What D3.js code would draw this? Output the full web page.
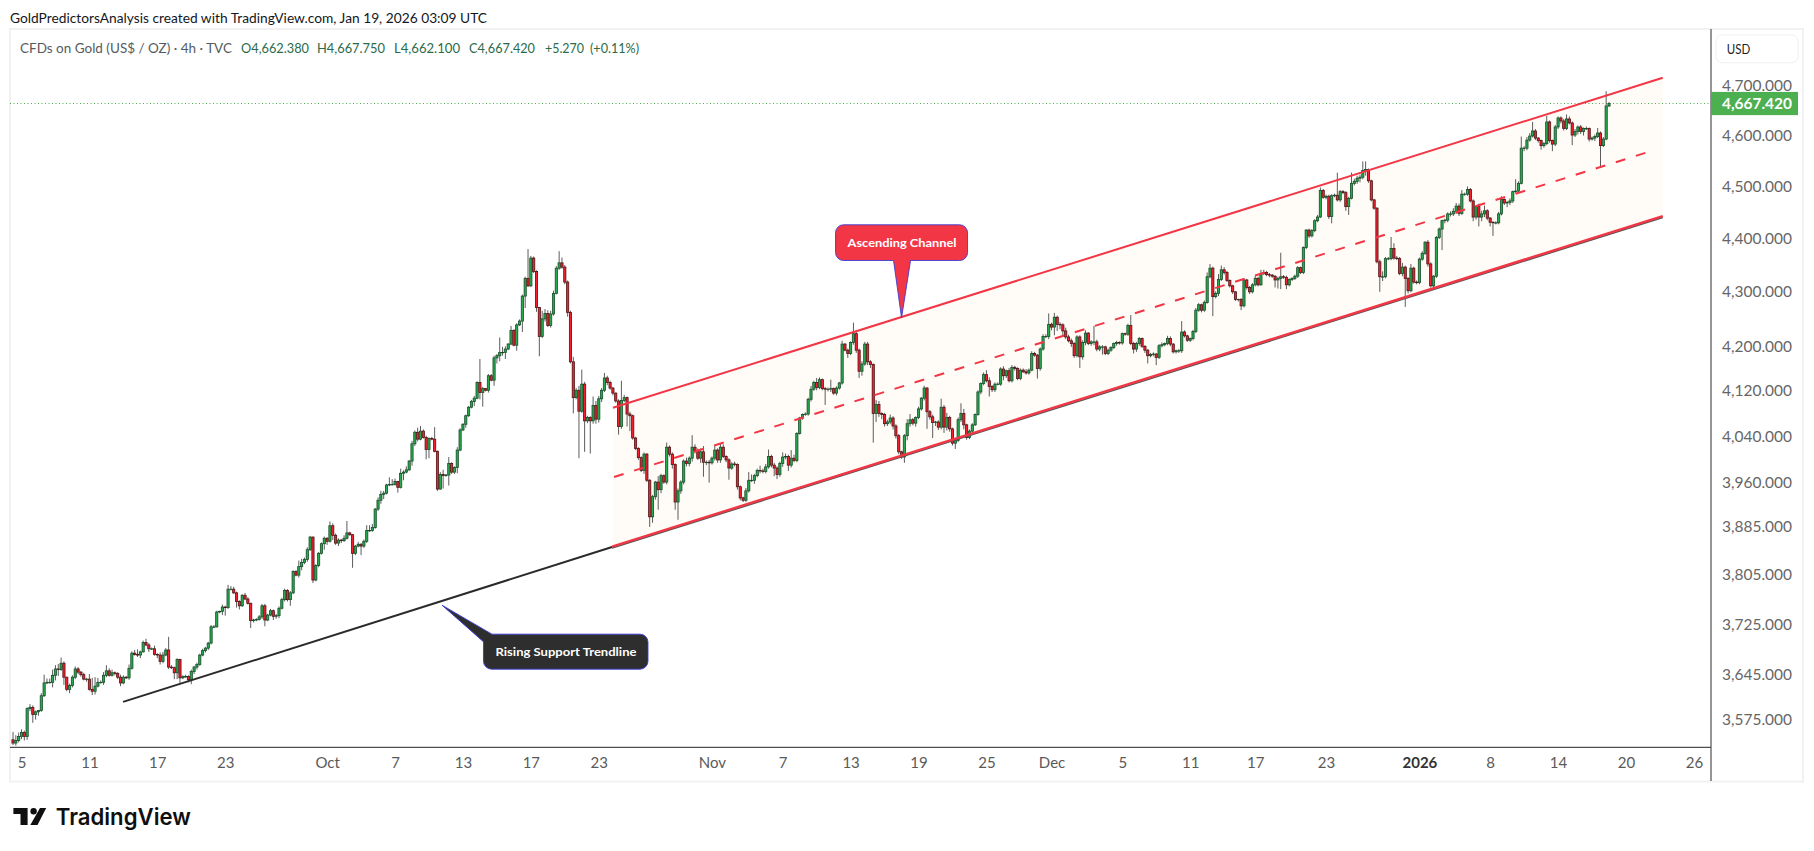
<!DOCTYPE html>
<html><head><meta charset="utf-8">
<script src="https://cdn.jsdelivr.net/npm/d3@7"></script>
<style>html,body{margin:0;padding:0;background:#fff;overflow:hidden}svg{display:block}
.tv{font-family:Lato,"Noto Sans",sans-serif}</style></head><body>
<svg id="c" width="1814" height="851"></svg>
<script>
const firstOpen=3544;
const closes=[
3539,3543,3549,3555,3549,3592,3594,3583,3587,3589,
3612,3632,3633,3633,3644,3654,3653,3663,3641,3622,
3628,3641,3654,3649,3645,3638,3638,3622,3619,3627,
3633,3633,3644,3651,3644,3648,3647,3641,3632,3641,
3640,3655,3679,3677,3676,3681,3696,3692,3686,3686,
3677,3676,3666,3676,3684,3657,3656,3648,3669,3640,
3642,3642,3637,3650,3657,3661,3676,3683,3687,3695,
3721,3721,3745,3746,3753,3752,3782,3782,3776,3762,
3755,3772,3766,3759,3731,3732,3733,3737,3755,3732,
3740,3747,3738,3739,3751,3765,3780,3765,3776,3811,
3805,3819,3826,3831,3847,3868,3797,3821,3841,3857,
3866,3861,3887,3871,3858,3863,3862,3866,3875,3872,
3841,3853,3856,3853,3861,3879,3879,3884,3915,3930,
3940,3942,3956,3957,3957,3962,3952,3976,3978,3982,
3997,4027,4047,4035,4049,4038,4017,4036,4035,4014,
3949,3974,3972,3973,3993,3978,3986,4016,4051,4061,
4076,4091,4101,4107,4135,4117,4124,4121,4147,4139,
4179,4183,4189,4189,4195,4204,4229,4202,4239,4246,
4292,4325,4311,4363,4338,4271,4218,4250,4260,4238,
4259,4297,4344,4354,4346,4318,4262,4172,4108,4121,
4084,4132,4067,4073,4067,4094,4070,4106,4121,4143,
4135,4125,4116,4102,4057,4103,4108,4079,4076,4037,
4019,4003,3981,4009,3964,3902,3936,3961,3948,3972,
3961,4021,4009,3991,3927,3946,3961,3997,3993,4002,
4021,4015,4002,4013,3995,3995,3994,4002,4016,3999,
4021,4005,3999,3985,3992,3991,3953,3934,3930,3946,
3964,3964,3972,3981,3980,3979,3987,4005,3990,3985,
3974,3993,4004,4005,3990,4002,3998,4045,4072,4078,
4079,4105,4123,4135,4126,4140,4124,4123,4123,4124,
4116,4125,4134,4204,4193,4187,4207,4223,4193,4155,
4168,4204,4172,4167,4080,4096,4080,4078,4062,4065,
4072,4058,4041,4013,4004,4041,4062,4069,4063,4073,
4088,4107,4125,4083,4074,4064,4065,4056,4091,4056,
4073,4053,4028,4033,4069,4080,4060,4038,4049,4060,
4078,4118,4133,4149,4138,4128,4122,4132,4132,4159,
4147,4156,4138,4162,4160,4142,4157,4154,4152,4157,
4187,4184,4160,4195,4218,4218,4240,4235,4253,4240,
4239,4228,4217,4210,4205,4183,4217,4181,4207,4224,
4205,4208,4208,4195,4199,4199,4187,4193,4198,4205,
4207,4206,4223,4222,4238,4205,4195,4205,4214,4200,
4193,4183,4185,4186,4180,4201,4203,4205,4214,4204,
4190,4192,4192,4226,4219,4211,4214,4227,4266,4276,
4266,4280,4328,4344,4291,4297,4323,4341,4336,4321,
4311,4300,4286,4286,4274,4322,4308,4300,4313,4325,
4313,4334,4336,4332,4331,4329,4322,4325,4328,4327,
4313,4323,4325,4329,4345,4336,4383,4416,4405,4415,
4434,4441,4492,4479,4481,4442,4482,4483,4474,4490,
4488,4461,4477,4506,4510,4516,4518,4531,4533,4511,
4474,4458,4356,4328,4328,4362,4362,4381,4363,4362,
4334,4346,4325,4302,4344,4318,4317,4361,4372,4393,
4352,4311,4329,4402,4418,4434,4435,4447,4447,4452,
4462,4448,4485,4485,4494,4472,4441,4461,4441,4447,
4453,4439,4431,4430,4430,4447,4475,4468,4469,4472,
4490,4491,4506,4575,4575,4591,4599,4609,4595,4590,
4580,4584,4627,4590,4583,4617,4635,4629,4614,4633,
4625,4601,4608,4617,4608,4614,4614,4593,4595,4598,
4605,4580,4593,4659,4664];
const wickUp=[
12,8,6,5,3,2,5,3,2,1,
4,13,6,6,9,6,8,9,3,1,
3,3,4,3,2,3,2,8,18,14,
7,3,5,9,4,5,2,2,4,3,
2,6,3,5,8,2,3,6,3,2,
5,2,4,5,3,21,3,2,2,1,
2,3,2,3,2,3,2,3,2,2,
3,3,2,1,4,2,7,5,4,2,
2,2,4,3,1,2,2,3,3,3,
2,3,2,3,3,3,3,2,3,2,
2,10,6,3,4,2,1,2,2,2,
3,2,7,4,3,3,2,5,20,2,
1,2,4,2,3,9,9,6,2,5,
6,4,2,12,9,5,1,8,3,6,
2,5,3,8,9,3,3,2,3,21,
1,4,8,2,11,2,2,5,3,2,
2,2,3,4,2,42,3,1,3,3,
4,3,27,10,5,2,8,2,3,3,
3,3,55,4,3,2,1,15,8,6,
6,5,4,22,10,4,3,3,9,4,
8,26,4,3,2,16,8,5,4,9,
4,3,2,1,3,35,5,2,4,2,
2,2,2,3,2,2,3,2,10,3,
2,8,3,3,2,4,3,3,6,3,
21,5,4,6,10,3,4,3,8,3,
6,5,2,3,3,4,2,2,2,5,
14,10,3,3,8,4,5,12,3,4,
3,3,8,5,3,14,6,2,2,2,
3,3,6,3,8,4,2,3,3,16,
2,3,2,6,2,3,2,20,6,3,
5,4,4,3,2,8,6,2,3,4,
6,3,3,3,2,3,8,10,3,2,
4,2,4,2,3,4,2,3,15,4,
8,3,2,3,4,18,8,2,3,3,
2,3,2,4,8,6,2,3,3,3,
5,2,5,4,3,2,3,3,5,3,
4,3,2,3,4,4,20,3,8,3,
4,3,6,4,4,3,3,3,4,5,
2,3,29,4,3,3,2,3,2,2,
3,2,2,2,3,19,3,3,3,2,
2,2,3,3,2,3,4,2,5,4,
2,2,3,20,3,2,2,3,4,3,
2,4,8,8,3,4,10,8,5,3,
2,2,1,1,2,3,2,3,3,5,
3,7,5,3,3,2,2,3,45,3,
3,2,2,3,3,2,2,2,3,3,
3,4,6,3,3,3,3,3,44,3,
3,3,3,21,5,5,5,18,16,2,
2,2,2,4,10,3,3,22,10,4,
3,8,3,2,8,3,3,3,4,2,
4,3,2,3,3,2,3,3,5,6,
6,5,8,3,6,3,3,2,6,6,
10,3,2,2,3,4,6,2,3,5,
2,23,4,23,4,6,6,18,4,2,
2,3,12,3,2,4,3,3,4,9,
5,3,5,3,4,2,4,2,3,4,
10,3,4,30,3];
const wickDown=[
3,4,3,4,6,5,4,13,8,6,
2,2,2,2,8,8,10,2,12,3,
6,3,3,3,3,2,4,2,6,5,
2,2,4,3,2,2,3,3,5,2,
2,3,2,2,3,5,1,2,5,2,
2,5,5,3,2,3,2,10,10,8,
2,2,4,7,4,4,2,2,3,3,
2,2,1,2,6,13,2,2,2,10,
6,2,2,2,12,3,2,2,3,10,
2,2,6,4,4,2,3,3,10,2,
2,4,6,3,4,2,5,2,3,2,
10,6,2,8,3,5,4,2,2,2,
24,3,2,15,3,3,2,2,2,3,
6,8,2,2,2,2,9,2,12,2,
2,8,4,4,2,2,17,15,2,2,
3,1,22,2,18,3,3,10,2,2,
6,2,2,8,2,12,25,2,4,2,
10,10,10,6,12,2,2,2,10,2,
20,22,2,2,3,8,36,3,5,3,
4,3,2,3,3,4,8,3,28,3,
82,3,54,4,57,5,8,6,6,3,
5,3,4,3,14,4,3,22,27,3,
3,4,3,6,3,17,10,5,34,6,
3,4,4,7,13,30,5,4,5,5,
6,5,3,8,25,5,34,3,4,5,
5,3,4,20,3,3,5,4,3,3,
3,3,6,3,4,3,3,3,4,14,
8,4,6,4,10,4,3,3,2,3,
2,3,4,3,5,3,3,28,4,5,
3,4,3,3,2,8,3,4,5,12,
8,3,6,6,51,15,6,8,5,4,
4,6,5,4,3,10,8,5,4,6,
3,3,4,30,5,27,6,5,4,10,
6,5,4,10,3,4,8,4,3,3,
2,2,4,3,3,18,4,4,2,3,
8,4,3,3,4,3,3,2,3,3,
2,3,18,4,3,3,5,6,15,12,
8,10,4,3,6,4,3,20,5,5,
3,4,6,4,4,14,3,3,3,3,
4,3,3,3,3,3,8,5,4,3,
5,14,3,3,14,3,3,3,3,4,
3,3,4,4,3,3,3,3,3,3,
4,3,2,3,36,3,5,3,4,3,
3,4,3,4,8,3,4,4,3,3,
3,2,3,3,4,3,14,16,20,3,
8,3,3,3,3,3,3,3,4,3,
3,3,2,3,4,5,13,3,3,4,
3,8,16,2,4,5,8,4,10,4,
3,3,3,28,8,3,3,3,3,3,
3,5,53,5,3,3,3,3,3,3,
5,3,3,3,3,40,5,4,5,4,
5,5,3,3,3,3,8,5,18,8,
6,4,8,25,3,3,3,4,8,5,
4,3,3,2,6,4,3,3,4,4,
8,4,3,4,14,4,4,5,4,3,
3,20,4,6,5,8,3,5,3,6,
3,44,3,2,2];
const priceTicks=[4700,4600,4500,4400,4300,4200,4120,4040,3960,3885,3805,3725,3645,3575];
const timeTickBars=[3,27,51,75,111,135,159,183,207,247,272,296,320,344,367,392,416,439,464,497,522,546,570,594];
const timeTickLabels=["5","11","17","23","Oct","7","13","17","23","Nov","7","13","19","25","Dec","5","11","17","23","2026","8","14","20","26"];
const supportBars=[38.9,211.7], supportPrices=[3602.4,3851.5];
const lowerBars=[211.7,583], lowerPrices=[3851.5,4442];
const upperBars=[212,583], upperPrices=[4090.2,4716];
const midBars=[212.4,579], midPrices=[3969.7,4569.4];
const channelBars=[212,583];
const tipAscending=[314,4252], tipSupport=[151.6,3756];
const lastPriceText="4,667.420";

const N=closes.length;
const candles=closes.map((c,i)=>{const o=i?closes[i-1]:firstOpen;
  return {i,o,c,h:Math.max(o,c)+wickUp[i],l:Math.min(o,c)-wickDown[i]};});
const x=d3.scaleLinear().domain([0,N-1]).range([13,1609]);
const y=d3.scaleLog().domain([4700,3575]).range([85.7,719.6]);
const svg=d3.select("#c").attr("class","tv");
const txt=(t,xx,yy,len,fs,fill,w)=>{const e=svg.append("text").attr("x",xx).attr("y",yy).attr("font-size",fs).attr("fill",fill).attr("dominant-baseline","central").text(t);
  if(len)e.attr("textLength",len).attr("lengthAdjust","spacingAndGlyphs");if(w)e.attr("font-weight",w);return e;};

// frame
svg.append("rect").attr("x",10).attr("y",29).attr("width",1793).attr("height",752.5).attr("fill","#fff").attr("stroke","#f1f1f1").attr("stroke-width",2);
// title
txt("GoldPredictorsAnalysis created with TradingView.com, Jan 19, 2026 03:09 UTC",10,17.7,477,13.5,"#131722");
// legend
txt("CFDs on Gold (US$ / OZ) · 4h · TVC",20,47.7,212,13,"#555b61");
[["O4,662.380",241,68],["H4,667.750",317,68],["L4,662.100",394,66],["C4,667.420",469,66],["+5.270",545,39],["(+0.11%)",590,49]].forEach(d=>txt(d[0],d[1],47.7,d[2],13,"#2b6a4a"));

// channel fill
const lineAt=(bars,prices,b)=>{const t=(x(b)-x(bars[0]))/(x(bars[1])-x(bars[0]));return y(prices[0])+t*(y(prices[1])-y(prices[0]));};
svg.append("path").attr("fill","#fffbf6").attr("d",d3.line()([
 [x(channelBars[0]),lineAt(upperBars,upperPrices,channelBars[0])],
 [x(channelBars[1]),lineAt(upperBars,upperPrices,channelBars[1])],
 [x(channelBars[1]),lineAt(lowerBars,lowerPrices,channelBars[1])],
 [x(channelBars[0]),lineAt(lowerBars,lowerPrices,channelBars[0])]]));

// last price dotted
const lastY=y(closes[N-1]);
svg.append("line").attr("x1",10).attr("x2",1711).attr("y1",lastY).attr("y2",lastY).attr("stroke","#4caf50").attr("stroke-width",1).attr("stroke-dasharray","1 2.5");

// candles
const gc=svg.append("g");
gc.selectAll("line").data(candles).join("line")
 .attr("x1",d=>x(d.i)).attr("x2",d=>x(d.i)).attr("y1",d=>y(d.h)).attr("y2",d=>y(d.l))
 .attr("stroke","#5c5c5c").attr("stroke-width",1);
gc.selectAll("rect").data(candles).join("rect")
 .attr("x",d=>x(d.i)-1.1).attr("width",2.2)
 .attr("y",d=>y(Math.max(d.o,d.c))).attr("height",d=>Math.max(0.4,Math.abs(y(d.o)-y(d.c))))
 .attr("fill",d=>d.c>=d.o?"#2aa84f":"#f5202f")
 .attr("stroke",d=>d.c>=d.o?"#15502a":"#4f1416").attr("stroke-width",0.8);

// trendlines
const ln=d3.line().x(d=>x(d[0])).y(d=>y(d[1]));
const seg=(b,p)=>ln(b.map((v,i)=>[v,p[i]]));
svg.append("path").attr("d",seg(supportBars,supportPrices)).attr("stroke","#2a2a2a").attr("stroke-width",2).attr("fill","none");
svg.append("path").attr("d",seg(lowerBars,lowerPrices)).attr("stroke","#555").attr("stroke-width",1.5).attr("fill","none").attr("transform","translate(0,1)");
svg.append("path").attr("d",seg(lowerBars,lowerPrices)).attr("stroke","#f23645").attr("stroke-width",2.4).attr("fill","none").attr("transform","translate(0,-0.4)");
svg.append("path").attr("d",seg(upperBars,upperPrices)).attr("stroke","#f23645").attr("stroke-width",2).attr("fill","none");
svg.append("path").attr("d",seg(midBars,midPrices)).attr("stroke","#f23645").attr("stroke-width",2).attr("fill","none").attr("stroke-dasharray","10 11");

// callouts
{const tx=x(tipAscending[0]),ty=y(tipAscending[1]);
 const L=tx-66,R=tx+66,T=ty-93,B=ty-57.3,r=8;
 svg.append("path").attr("fill","#f23645").attr("stroke","#3b3bd6").attr("stroke-width",0.9)
  .attr("d",`M${L+r},${T}H${R-r}A${r},${r} 0 0 1 ${R},${T+r}V${B-r}A${r},${r} 0 0 1 ${R-r},${B}H${tx+9}L${tx},${ty}L${tx-8},${B}H${L+r}A${r},${r} 0 0 1 ${L},${B-r}V${T+r}A${r},${r} 0 0 1 ${L+r},${T}Z`);
 txt("Ascending Channel",tx-54,ty-75,109,12,"#fff",700);}
{const tx=x(tipSupport[0]),ty=y(tipSupport[1]);
 const L=tx+41.5,R=tx+206,T=ty+29,B=ty+64,r=8;
 svg.append("path").attr("fill","#2e2e2e").attr("stroke","#3b3bd6").attr("stroke-width",0.9)
  .attr("d",`M${tx+50},${T}H${R-r}A${r},${r} 0 0 1 ${R},${T+r}V${B-r}A${r},${r} 0 0 1 ${R-r},${B}H${L+r}A${r},${r} 0 0 1 ${L},${B-r}V${T+7.7}L${tx},${ty}Z`);
 txt("Rising Support Trendline",tx+53.5,ty+46,141,12,"#fff",700);}

// axes lines
svg.append("line").attr("x1",10).attr("x2",1711).attr("y1",747.3).attr("y2",747.3).attr("stroke","#4f4f4f").attr("stroke-width",1.2);
svg.append("line").attr("x1",1711).attr("x2",1711).attr("y1",29).attr("y2",781).attr("stroke","#4f4f4f").attr("stroke-width",1.2);

// y axis
const ya=svg.append("g").attr("transform","translate(1722,0)")
 .call(d3.axisRight(y).tickValues(priceTicks).tickSize(0).tickPadding(0).tickFormat(d3.format(",.3f")));
ya.select(".domain").remove();
ya.selectAll("text").attr("font-family","Lato,'Noto Sans',sans-serif").attr("font-size",15).attr("fill","#666").attr("textLength",70).attr("lengthAdjust","spacingAndGlyphs");

// x axis
const xa=svg.append("g").attr("transform","translate(0,747)")
 .call(d3.axisBottom(x).tickValues(timeTickBars).tickSize(0).tickPadding(0).tickFormat((d,i)=>timeTickLabels[i]));
xa.select(".domain").remove();
xa.selectAll("text").attr("font-family","Lato,'Noto Sans',sans-serif").attr("font-size",15).attr("dy","0").attr("y",21)
 .attr("font-weight",(d,i)=>timeTickLabels[i]==="2026"?700:400).attr("fill",(d,i)=>timeTickLabels[i]==="2026"?"#333":"#5a5a5a");

// USD button + price tag
svg.append("rect").attr("x",1716).attr("y",35).attr("width",82).attr("height",27.7).attr("rx",6).attr("fill","#fff").attr("stroke","#f0f0f0");
txt("USD",1726.7,49,23.5,13,"#1e1e1e");
svg.append("rect").attr("x",1711).attr("y",lastY-11.6).attr("width",87).attr("height",23.2).attr("fill","#4caf50");
txt(lastPriceText,1722,lastY-0.5,70,15,"#fff",700);

// logo
svg.append("path").attr("fill","#0f0f0f").attr("d","M13.4,808H27.6V825H20.5V814H13.4Z M40,808H46.2L37.5,825H30.3Z");
svg.append("circle").attr("cx",33.6).attr("cy",811.2).attr("r",3.2).attr("fill","#0f0f0f");
txt("TradingView",55.8,816.5,135,23,"#0f0f0f",600).attr("font-family","Inter,Roboto,sans-serif");
</script></body></html>
